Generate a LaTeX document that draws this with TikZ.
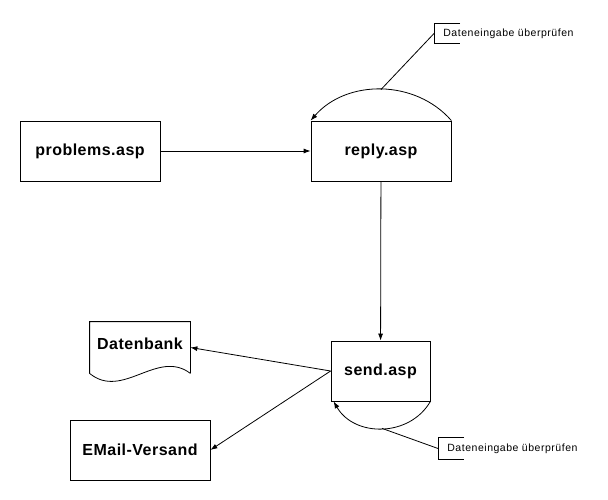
\documentclass[tikz,border=0pt]{standalone}
\usepackage{fontspec}
\setmainfont{Liberation Sans}
\usetikzlibrary{arrows.meta}
\definecolor{vblack}{HTML}{000000}

\tikzset{
	page/.style={x=1pt, y=-1pt, line width=0.8pt, color=vblack},
	boldfont/.style={font=\fontsize{16}{18}\selectfont\bfseries\addfontfeatures{LetterSpace=3}},
	aspbox/.style={draw, minimum height=60pt, boldfont},
	notebox/.style={anchor=west, inner xsep=9pt, inner ysep=0pt, font=\fontsize{10.5}{12}\selectfont\addfontfeatures{LetterSpace=5}},
	arr/.style={-{Latex[length=7pt,width=5pt]}}
}

\begin{document}
\begin{tikzpicture}[page]
		\useasboundingbox (0,0) rectangle (608,500);
		\node[aspbox, minimum width=140pt] (problems) at (90,151) {problems.asp};
		\node[aspbox, minimum width=140pt] (reply) at (381,151) {reply.asp};
		\node[aspbox, minimum width=99pt] (send) at (380.5,371) {send.asp};
		\node[aspbox, minimum width=140pt] (email) at (140,450) {EMail-Versand};
		\node[minimum width=100pt, minimum height=51pt, inner sep=0pt] (db) at (140,347.5) {};
		\node[boldfont] (dbtext) at (140,344) {Datenbank};
		\node[notebox, minimum height=19pt] (checkreply) at (434,33.5) {Dateneingabe überprüfen};
		\node[notebox, minimum height=21pt] (checksend) at (438,448.5) {Dateneingabe überprüfen};
		% Datenbank als Dokument
		\draw (db.south east) -- (db.north east) -- (db.north west) -- (db.south west) .. controls +(33,27) and +(-33,-25) .. (db.south east);
		% offene Notizkaesten
		\draw ([xshift=26pt]checkreply.north west) -- (checkreply.north west) -- (checkreply.south west) -- ([xshift=26pt]checkreply.south west);
		\draw ([xshift=26pt]checksend.north west) -- (checksend.north west) -- (checksend.south west) -- ([xshift=26pt]checksend.south west);
		% Verbindungen
		\draw[arr] (problems) -- (reply);
		\draw[arr] (reply) -- (send);
		\draw[arr] (send.west) -- (db.east);
		\draw[arr] (send.west) -- (email.east);
		\draw[arr] (reply.north east) to[bend right=49] coordinate[pos=0.5] (replytop) (reply.north west);
		\draw[arr] (send.south east) to[bend left=60, looseness=1.1] coordinate[pos=0.5] (sendbottom) ([xshift=3pt]send.south west);
		\draw (replytop) -- (checkreply.west);
		\draw (sendbottom) -- (checksend.west);
	\end{tikzpicture}
\end{document}
